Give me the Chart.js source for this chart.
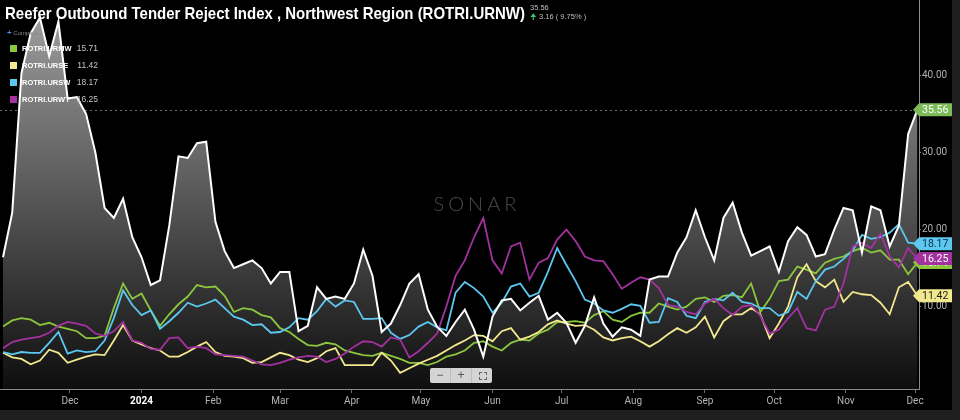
<!DOCTYPE html>
<html lang="en">
<head>
<meta charset="UTF-8">
<title>Reefer Outbound Tender Reject Index, Northwest Region</title>
<script src="https://cdn.jsdelivr.net/npm/chart.js@4/dist/chart.umd.min.js"></script>
<style>
  html, body { margin: 0; padding: 0; background: #1f1f1f; }
  body { width: 960px; height: 420px; overflow: hidden; position: relative; font-family: "Liberation Sans", Arial, sans-serif; }
  .panel { position: absolute; left: 0; top: 0; width: 952px; height: 410px; background: #000; }
  #chart { position: absolute; left: 0; top: 0; }
  .title { position: absolute; left: 5px; top: 4px; color: #fff; font-weight: bold; font-size: 17px; white-space: nowrap; transform-origin: left top; }
  .head-val { position: absolute; left: 530px; top: 3px; color: #bdbdbd; font-size: 7.5px; line-height: 9px; white-space: nowrap; }
  .head-val .up { color: #3ec46d; }
  .compare { position: absolute; left: 7px; top: 28px; color: #8a8a8a; font-size: 6px; white-space: nowrap; }
  .compare b { color: #3a8ee6; font-size: 8px; font-weight: bold; }
  .leg { position: absolute; left: 10px; width: 88px; height: 10px; }
  .leg i { position: absolute; left: 0; top: 1px; width: 7px; height: 7px; }
  .leg span { position: absolute; left: 12px; top: 0; color: #fff; font-weight: bold; font-size: 7.5px; line-height: 9px; white-space: nowrap; }
  .leg em { position: absolute; right: 0; top: 0; color: #c4c4c4; font-style: normal; font-size: 8.5px; line-height: 9px; }
  .sonar { position: absolute; left: 424px; top: 191px; width: 106px; text-align: center; color: #4c4c4c; font-family: Lato, "Open Sans", sans-serif; font-weight: 300; font-size: 20px; letter-spacing: 4px; }
  .zoombox { position: absolute; left: 430px; top: 368px; width: 62px; height: 15px; background: #d4d4d4; border-radius: 2px; display: flex; }
  .zoombox div { flex: 1; color: #555; font-size: 12px; line-height: 15px; text-align: center; border-left: 1px solid #bdbdbd; position: relative; }
  .zoombox div:first-child { border-left: none; }
  .zoombox .full::after { content: ""; position: absolute; left: 7px; top: 4px; width: 6px; height: 6px; border: 1px dashed #666; }
</style>
</head>
<body>
<div class="panel"></div>
<canvas id="chart" width="952" height="410"></canvas>
<div class="title">Reefer Outbound Tender Reject Index , Northwest Region (ROTRI.URNW)</div>
<div class="head-val" id="headVal"></div>
<div class="compare"><b>+</b> Compare...</div>
<div id="legend"></div>
<div class="sonar">SONAR</div>
<div class="zoombox"><div>&minus;</div><div>+</div><div class="full"></div></div>
<script>
// sampling calendar: day 0 = 1 Nov 2023, one point every 4 days
const days = Array.from({ length: 100 }, (_, i) => 1 + 4 * i);

// month ticks (day index of the 1st of each month)
const monthDays = [30, 61, 92, 121, 152, 182, 213, 243, 274, 305, 335, 366, 396];
const monthLabels = ['Dec', '2024', 'Feb', 'Mar', 'Apr', 'May', 'Jun', 'Jul', 'Aug', 'Sep', 'Oct', 'Nov', 'Dec'];
const yTicks = [10, 20, 30, 40];

// ROTRI.URNW - Northwest
const urnw = [16.4, 22.2, 40.3, 45.5, 47.5, 42.5, 47, 37, 37.2, 35,
  30, 22.8, 21.5, 24, 19, 16.4, 12.8, 13.4, 20.5, 29.5,
  29.3, 31.2, 31.4, 21, 17.2, 15, 15.5, 16, 15, 13,
  14.5, 14.5, 6.8, 7.5, 12.5, 11, 11.3, 11, 13, 17.4,
  14, 6.7, 7.8, 10.2, 13, 14.2, 9.6, 7.4, 6.2, 8,
  9.6, 7, 3.5, 8.7, 10.8, 11, 9.5, 10.5, 11.4, 8.3,
  9.2, 7.9, 5.3, 7.5, 11.2, 7.8, 6.1, 7.3, 7, 6.2,
  13.5, 13.9, 13.9, 17, 19, 22.5, 19, 16, 21.5, 23.5,
  19.6, 16.6, 17.2, 17.8, 14.5, 18.5, 20.3, 19.3, 16.5, 16.8,
  20, 22.8, 22.5, 17, 23, 22.5, 17.8, 20.5, 32.4, 35.56];

// ROTRI.URMW - Midwest
const urmw = [7.4, 8.2, 8.5, 8.3, 7.6, 7.9, 7.4, 7.1, 6.8, 5.9,
  5.9, 6.2, 9.8, 13, 11, 11.7, 9.5, 7.5, 9, 10.3,
  11.3, 12.8, 12.5, 12.6, 11.4, 9.3, 9.8, 9.6, 8.9, 8.6,
  7.2, 6.7, 5.8, 5.0, 4.9, 5.3, 5.1, 4.3, 4.0, 3.7,
  3.6, 4.0, 3.6, 3.2, 2.7, 2.7, 2.4, 2.8, 3.5, 3.8,
  4.3, 5.3, 5.5, 4.8, 4.3, 5.3, 5.7, 5.6, 6.5, 7,
  8, 8, 8.1, 7.9, 8.9, 9.4, 8.3, 8, 8.8, 9.2,
  9.2, 10.4, 10, 9.6, 10, 11, 11.2, 10.6, 11.4, 11.5,
  11.2, 13, 9.3, 11, 13.3, 13.5, 15.2, 14.8, 14.3, 15.7,
  16.2, 16.5, 17.2, 17.6, 17, 17.3, 16.1, 16.1, 14.2, 15.71];

// ROTRI.URSE - Southeast
const urse = [4.0, 3.4, 3.2, 2.5, 3.0, 4.4, 4.0, 2.7, 3.1, 3.5,
  3.8, 3.7, 5.6, 7.6, 5.6, 5.1, 4.6, 4.3, 3.5, 3.5,
  4.1, 4.8, 5.4, 4.1, 3.6, 3.5, 3.3, 2.7, 2.8, 3.4,
  4.0, 3.7, 3.1, 2.8, 3.3, 4.2, 4.6, 2.4, 2.4, 2.4,
  2.4, 4.0, 3.0, 1.4, 2.0, 2.6, 3.1, 3.6, 4.3, 5.0,
  5.6, 6.3, 6.2, 5.5, 6.8, 7.2, 5.7, 6.1, 6.7, 7.7,
  8.2, 7.8, 7.5, 7.6, 7, 6, 5.6, 5.9, 6.1, 5.5,
  4.8, 5.5, 6.4, 7.2, 6.6, 7.3, 8.7, 6, 8.1, 9,
  9, 9.8, 9, 5.9, 7.8, 10, 13.8, 15.5, 13.3, 12.5,
  13.5, 10.6, 11.9, 11.6, 11.5, 10.5, 9, 12.5, 13.2, 11.42];

// ROTRI.URSW - Southwest
const ursw = [4.1, 3.8, 4.1, 4.0, 4.0, 5.3, 6.7, 3.9, 4.3, 4.1,
  4.2, 5.6, 8.5, 12.1, 10.2, 8.9, 9.5, 7.1, 8.1, 9.2,
  10.5, 10, 10.4, 10.9, 9.8, 8.7, 8.3, 7.6, 7.7, 6.6,
  6.7, 7.3, 8.5, 8.3, 9.4, 11, 10, 10.8, 10.6, 8.4,
  8.4, 8.5, 6.6, 5.8, 6.3, 7.4, 8, 7.3, 6.9, 11.8,
  13.2, 12.4, 11.3, 9.2, 10.5, 12.6, 13, 11.3, 11.8, 14.5,
  17.6, 15.4, 13.3, 10.9, 10.4, 9.5, 9.2, 9.7, 10.3, 10.1,
  7.9, 8, 11.1, 10.6, 8.8, 8.5, 10.6, 11, 10.8, 11.8,
  10.6, 10.4, 9.8, 9.8, 8.8, 9.3, 11.9, 11, 13.3, 14.8,
  15.2, 16.2, 17.3, 19.3, 18.8, 19, 19.6, 20.7, 18.3, 18.17];

// ROTRI.URWT - West
const urwt = [4.6, 5.4, 5.7, 5.9, 6.1, 6.6, 7.5, 8, 7.8, 7.5,
  6.5, 6.2, 6.8, 8.0, 5.6, 5.3, 4.5, 4.4, 5.9, 6.0,
  4.6, 4.8, 4.6, 3.8, 3.7, 3.6, 3.5, 3.0, 2.5, 2.4,
  2.7, 3.1, 3.4, 3.6, 3.5, 2.8, 3.2, 3.9, 4.8, 5.5,
  5.4, 4.8, 6.0, 5.7, 3.4, 4.2, 5.3, 6.5, 10.0, 14,
  16, 19, 21.5, 16, 14.3, 17.8, 18.3, 13.5, 15.7, 16.3,
  18.7, 20, 18.5, 16.5, 16, 15.9, 14.2, 12.3, 13.1, 13.8,
  13.5, 12.4, 10.2, 10, 9.3, 9, 10.4, 11, 9.8, 8.9,
  10, 10.2, 8.8, 6.5, 7, 8.5, 9.8, 7.2, 6.9, 9.6,
  10, 13, 17.8, 18.3, 17.6, 19.5, 16.5, 15.1, 17.6, 16.25];

const last = arr => arr[arr.length - 1];
const pts = arr => arr.map((v, i) => ({ x: days[i], y: v }));

const series = [
  { name: 'ROTRI.URMW', data: urmw, color: '#8cc63f', tagText: '#ffffff' },
  { name: 'ROTRI.URSE', data: urse, color: '#f2e88e', tagText: '#222222' },
  { name: 'ROTRI.URSW', data: ursw, color: '#5cc7ef', tagText: '#0d2f45' },
  { name: 'ROTRI.URWT', data: urwt, color: '#a3319f', tagText: '#ffffff' }
];

// legend rows
const legend = document.getElementById('legend');
series.forEach((s, i) => {
  const row = document.createElement('div');
  row.className = 'leg';
  row.style.top = (44 + i * 17) + 'px';
  row.innerHTML = `<i style="background:${s.color}"></i><span>${s.name}</span><em>${last(s.data).toFixed(2)}</em>`;
  legend.appendChild(row);
});

// header value and change
const prev = urnw[urnw.length - 2];
const diff = last(urnw) - prev;
document.getElementById('headVal').innerHTML =
  `${last(urnw).toFixed(2)}<br><span class="up">&#129033;</span> ${diff.toFixed(2)} ( ${(diff / prev * 100).toFixed(2)}% )`;

const tagsPlugin = {
  id: 'lastValueTags',
  beforeDatasetsDraw(chart) {
    const { ctx, chartArea, scales: { y } } = chart;
    const yy = Math.round(y.getPixelForValue(last(urnw))) + 0.5;
    ctx.save();
    ctx.setLineDash([2, 3]);
    ctx.strokeStyle = '#707070';
    ctx.lineWidth = 1;
    ctx.beginPath();
    ctx.moveTo(chartArea.left, yy);
    ctx.lineTo(chartArea.right, yy);
    ctx.stroke();
    ctx.restore();
  },
  afterDraw(chart) {
    const { ctx, chartArea, scales: { y } } = chart;
    const tags = series.map(s => ({ v: last(s.data), bg: s.color, fg: s.tagText }));
    tags.push({ v: last(urnw), bg: diff >= 0 ? '#7dbb5a' : '#d9534f', fg: '#ffffff' });
    const x0 = chartArea.right - 6;
    ctx.save();
    ctx.font = '10.5px Roboto, "Liberation Sans", sans-serif';
    ctx.textBaseline = 'middle';
    tags.forEach(t => {
      const yy = y.getPixelForValue(t.v);
      ctx.fillStyle = t.bg;
      ctx.beginPath();
      ctx.moveTo(x0, yy);
      ctx.lineTo(x0 + 6, yy - 6.5);
      ctx.lineTo(x0 + 39, yy - 6.5);
      ctx.lineTo(x0 + 39, yy + 6.5);
      ctx.lineTo(x0 + 6, yy + 6.5);
      ctx.closePath();
      ctx.fill();
      ctx.fillStyle = t.fg;
      ctx.fillText(t.v.toFixed(2), x0 + 9, yy + 0.5);
    });
    ctx.restore();
  }
};

const ctx = document.getElementById('chart').getContext('2d');
new Chart(ctx, {
  type: 'line',
  data: {
    datasets: [
      {
        label: 'ROTRI.URNW',
        data: pts(urnw),
        borderColor: '#ffffff',
        borderWidth: 2,
        fill: 'start',
        backgroundColor: (c) => {
          const area = c.chart.chartArea;
          if (!area) return 'rgba(120,120,120,0.6)';
          const g = c.chart.ctx.createLinearGradient(0, area.top, 0, area.bottom);
          g.addColorStop(0, '#a2a2a2');
          g.addColorStop(1, '#0e0e0e');
          return g;
        },
        order: 0
      },
      ...series.map((s, i) => ({
        label: s.name,
        data: pts(s.data),
        borderColor: s.color,
        borderWidth: 1.8,
        fill: false,
        order: 4 - i
      }))
    ]
  },
  options: {
    responsive: false,
    animation: false,
    layout: { padding: 0 },
    elements: { point: { radius: 0 }, line: { tension: 0 } },
    plugins: {
      legend: { display: false },
      tooltip: { enabled: false },
      filler: { drawTime: 'beforeDatasetsDraw' }
    },
    scales: {
      x: {
        type: 'linear',
        min: -0.3,
        max: 397.7,
        afterBuildTicks: ax => { ax.ticks = monthDays.map(v => ({ value: v })); },
        afterFit: ax => { ax.height = 21; ax.paddingLeft = 0; ax.paddingRight = 0; },
        ticks: {
          autoSkip: false,
          maxRotation: 0,
          padding: 2,
          callback: (v, i) => monthLabels[i],
          color: c => (monthLabels[c.index] === '2024' ? '#ffffff' : '#b4b4b4'),
          font: c => ({ family: 'Roboto, sans-serif', size: 10, weight: monthLabels[c.index] === '2024' ? 'bold' : 'normal' })
        },
        grid: { drawOnChartArea: false, tickLength: 4, color: '#6a6a6a' },
        border: { color: '#8a8a8a' }
      },
      y: {
        position: 'right',
        min: -0.7,
        max: 49.8,
        afterBuildTicks: ax => { ax.ticks = yTicks.map(v => ({ value: v })); },
        afterFit: ax => { ax.width = 33; ax.paddingTop = 0; ax.paddingBottom = 0; },
        ticks: {
          padding: 1,
          color: '#b0b0b0',
          font: { family: 'Roboto, sans-serif', size: 10 },
          callback: v => v.toFixed(2)
        },
        grid: { drawOnChartArea: false, tickLength: 2, color: '#8a8a8a' },
        border: { color: '#8a8a8a' }
      }
    }
  },
  plugins: [tagsPlugin]
});

// fit the title to the width it has in the source screenshot
const title = document.querySelector('.title');
title.style.transform = 'scaleX(' + (520 / title.getBoundingClientRect().width) + ')';
</script>
</body>
</html>
